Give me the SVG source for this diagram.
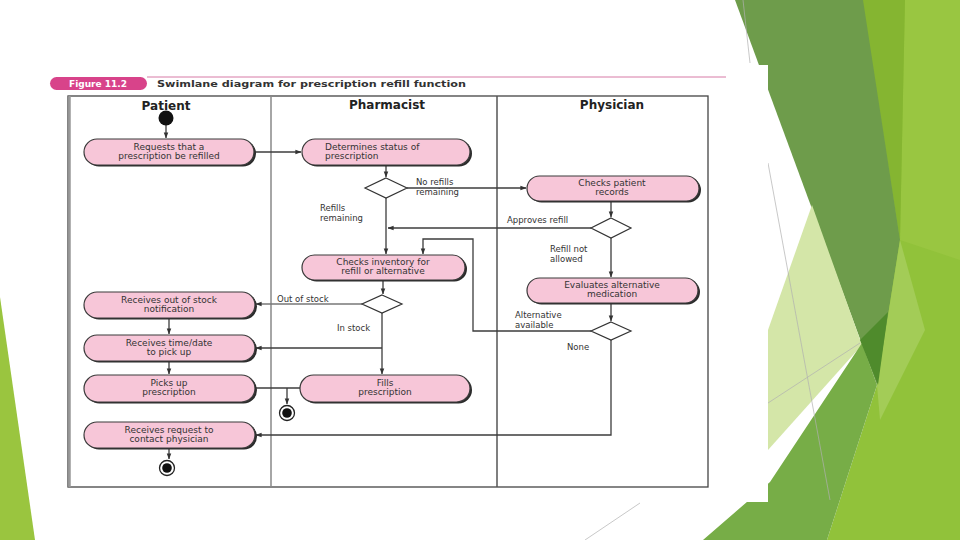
<svg xmlns="http://www.w3.org/2000/svg" width="960" height="540" viewBox="0 0 960 540">
<defs>
<marker id="ah" viewBox="0 0 8 8" refX="7.5" refY="4" markerWidth="6" markerHeight="6" orient="auto" markerUnits="userSpaceOnUse">
<path d="M0,1 L8,4 L0,7 z" fill="#333"/>
</marker>
<style>
.sh{fill:#2b2b2b}
.nd{fill:#f7c6d8;stroke:#3a3a3a;stroke-width:1.2}
.t{font-family:"DejaVu Sans","Liberation Sans",sans-serif;font-size:9px;fill:#333;text-anchor:middle}
.lb{font-family:"DejaVu Sans","Liberation Sans",sans-serif;font-size:8.5px;fill:#333}
.lane{font-family:"DejaVu Sans","Liberation Sans",sans-serif;font-size:12px;font-weight:bold;fill:#222;text-anchor:middle}
.dia{fill:#fff;stroke:#333;stroke-width:1.2}
.c{fill:none;stroke:#3c3c3c;stroke-width:1.3}
.ca{fill:none;stroke:#3c3c3c;stroke-width:1.3;marker-end:url(#ah)}
.thin{fill:none;stroke:#b0b0b0;stroke-width:0.7}
</style>
</defs>
<rect width="960" height="540" fill="#fff"/>
<g id="background">
<polygon points="0,297 35,540 0,540" fill="#9ac53f"/>
<polygon points="862,0 960,0 960,540 827,540 877,385" fill="#91c23a"/>
<polygon points="905,0 960,0 960,260 900,240" fill="#99c641"/>
<polygon points="862,0 905,0 900,240" fill="#85b531"/>
<polygon points="735,0 863,0 900,240 877,385" fill="#6e9c4b"/>
<polygon points="812,205 862,345 768,450 768,330" fill="#d4e6a8"/>
<polygon points="900,240 925,330 880,420 877,385" fill="#a3cc57"/>
<polygon points="703,540 770,482 862,343 877,385 827,540" fill="#77ad47"/>
<polygon points="860,340 888,312 878,385" fill="#4f8b2c"/>
<line x1="743" y1="0" x2="750" y2="63" class="thin"/>
<line x1="768" y1="163" x2="830" y2="500" class="thin"/>
<line x1="768" y1="403" x2="860" y2="343" class="thin"/>
<line x1="585" y1="540" x2="640" y2="503" class="thin"/>
<rect x="35" y="65" width="733" height="437" fill="#fff"/>
</g>
<g id="header">
<line x1="147" y1="77" x2="726" y2="77" stroke="#d77aa6" stroke-width="1"/>
<rect x="50" y="77" width="97" height="13" rx="6.5" fill="#d8438a"/>
<text x="98" y="87" font-family="DejaVu Sans,Liberation Sans,sans-serif" font-size="9" font-weight="bold" fill="#fff" text-anchor="middle">Figure 11.2</text>
<text x="157" y="87" font-family="DejaVu Sans,Liberation Sans,sans-serif" font-size="8.5" font-weight="bold" fill="#333" textLength="309" lengthAdjust="spacingAndGlyphs">Swimlane diagram for prescription refill function</text>
</g>
<g id="frame">
<rect x="68" y="96" width="640" height="391" fill="#fff" stroke="#444" stroke-width="1.3"/>
<line x1="69.5" y1="96" x2="69.5" y2="487" stroke="#999" stroke-width="2.5"/>
<line x1="271" y1="96" x2="271" y2="487" stroke="#888" stroke-width="1.5"/>
<line x1="497" y1="96" x2="497" y2="487" stroke="#555" stroke-width="1.5"/>
<text class="lane" x="166" y="110">Patient</text>
<text class="lane" x="387" y="109">Pharmacist</text>
<text class="lane" x="612" y="109">Physician</text>
</g>
<g id="connectors">
<path class="ca" d="M166,125 V138"/>
<path class="ca" d="M255,152 H301"/>
<path class="ca" d="M386,165 V177"/>
<path class="ca" d="M407,188 H526"/>
<path class="ca" d="M386,198 V254"/>
<path class="ca" d="M611,201 V217"/>
<path class="ca" d="M591,228 H388"/>
<path class="ca" d="M611,238 V277"/>
<path class="ca" d="M611,303 V321"/>
<path class="ca" d="M591,331 H473 V239 H423 V254"/>
<path class="ca" d="M611,340 V435 H256"/>
<path class="ca" d="M383,280 V294"/>
<path class="ca" d="M362,304 H256" style="stroke:#777"/>
<path class="ca" d="M382,313 V374"/>
<path class="ca" d="M382,348 H256"/>
<path class="ca" d="M169,318 V334"/>
<path class="ca" d="M169,361 V374"/>
<path class="c" d="M255,388 H300"/>
<path class="ca" d="M287,388 V404"/>
<path class="ca" d="M169,448 V459"/>
<text class="lb" x="416" y="185">No refills</text>
<text class="lb" x="416" y="195">remaining</text>
<text class="lb" x="320" y="211">Refills</text>
<text class="lb" x="320" y="221">remaining</text>
<text class="lb" x="507" y="223">Approves refill</text>
<text class="lb" x="550" y="252">Refill not</text>
<text class="lb" x="550" y="262">allowed</text>
<text class="lb" x="277" y="302">Out of stock</text>
<text class="lb" x="337" y="331">In stock</text>
<text class="lb" x="515" y="318">Alternative</text>
<text class="lb" x="515" y="327.5">available</text>
<text class="lb" x="567" y="350">None</text>
</g>
<g id="start"><circle cx="166" cy="118" r="7.5" fill="#111"/></g>
<g id="n1">
<rect class="sh" x="86" y="140.5" width="170" height="26" rx="13"/>
<rect class="nd" x="84" y="139" width="170" height="26" rx="13"/>
<text class="t" x="169" y="150">Requests that a</text>
<text class="t" x="169" y="159">prescription be refilled</text>
</g>
<g id="n2">
<rect class="sh" x="304" y="140.5" width="168" height="26" rx="13"/>
<rect class="nd" x="302" y="139" width="168" height="26" rx="13"/>
<text class="t" x="325" y="150" style="text-anchor:start">Determines status of</text>
<text class="t" x="325" y="159" style="text-anchor:start">prescription</text>
</g>
<g id="d1"><polygon class="dia" points="386,178 407,188 386,198 365,188"/></g>
<g id="n3">
<rect class="sh" x="529" y="177.5" width="172" height="25" rx="12.5"/>
<rect class="nd" x="527" y="176" width="172" height="25" rx="12.5"/>
<text class="t" x="612" y="186">Checks patient</text>
<text class="t" x="612" y="195">records</text>
</g>
<g id="d2"><polygon class="dia" points="611,218 631,228 611,238 591,228"/></g>
<g id="n4">
<rect class="sh" x="304" y="256.5" width="163" height="25" rx="12.5"/>
<rect class="nd" x="302" y="255" width="163" height="25" rx="12.5"/>
<text class="t" x="383" y="265">Checks inventory for</text>
<text class="t" x="383" y="274">refill or alternative</text>
</g>
<g id="d3"><polygon class="dia" points="382,295 402,304 382,313 362,304"/></g>
<g id="n5">
<rect class="sh" x="529" y="279.5" width="171" height="25" rx="12.5"/>
<rect class="nd" x="527" y="278" width="171" height="25" rx="12.5"/>
<text class="t" x="612" y="288">Evaluates alternative</text>
<text class="t" x="612" y="297">medication</text>
</g>
<g id="d4"><polygon class="dia" points="611,322 631,331 611,340 591,331"/></g>
<g id="n6">
<rect class="sh" x="86" y="293.5" width="171" height="26" rx="13"/>
<rect class="nd" x="84" y="292" width="171" height="26" rx="13"/>
<text class="t" x="169" y="303">Receives out of stock</text>
<text class="t" x="169" y="312">notification</text>
</g>
<g id="n7">
<rect class="sh" x="86" y="336.5" width="171" height="26" rx="13"/>
<rect class="nd" x="84" y="335" width="171" height="26" rx="13"/>
<text class="t" x="169" y="346">Receives time/date</text>
<text class="t" x="169" y="355">to pick up</text>
</g>
<g id="n8">
<rect class="sh" x="86" y="376.5" width="171" height="27" rx="13.5"/>
<rect class="nd" x="84" y="375" width="171" height="27" rx="13.5"/>
<text class="t" x="169" y="386">Picks up</text>
<text class="t" x="169" y="395">prescription</text>
</g>
<g id="n9">
<rect class="sh" x="302" y="376.5" width="170" height="27" rx="13.5"/>
<rect class="nd" x="300" y="375" width="170" height="27" rx="13.5"/>
<text class="t" x="385" y="386">Fills</text>
<text class="t" x="385" y="395">prescription</text>
</g>
<g id="n10">
<rect class="sh" x="86" y="423.5" width="171" height="26" rx="13"/>
<rect class="nd" x="84" y="422" width="171" height="26" rx="13"/>
<text class="t" x="169" y="433">Receives request to</text>
<text class="t" x="169" y="442">contact physician</text>
</g>
<g id="end1">
<circle cx="287" cy="413" r="7.5" fill="#fff" stroke="#222" stroke-width="1.3"/>
<circle cx="287" cy="413" r="4.8" fill="#111"/>
</g>
<g id="end2">
<circle cx="167" cy="468" r="7.5" fill="#fff" stroke="#222" stroke-width="1.3"/>
<circle cx="167" cy="468" r="4.8" fill="#111"/>
</g>
</svg>
